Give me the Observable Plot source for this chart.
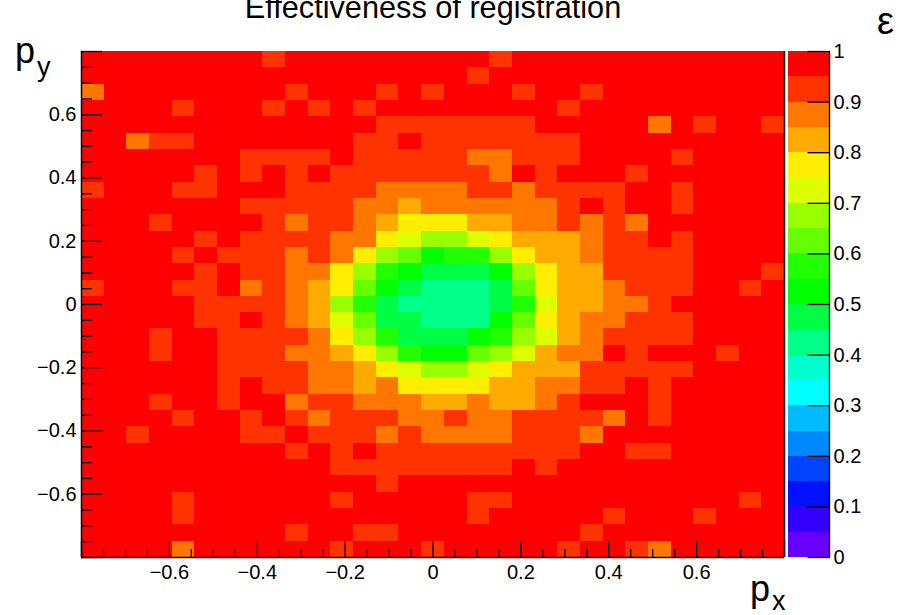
<!DOCTYPE html>
<html>
<head>
<meta charset="utf-8">
<script src="https://cdn.jsdelivr.net/npm/d3@7"></script>
<script src="https://cdn.jsdelivr.net/npm/@observablehq/plot@0.6"></script>
<style>
html,body{margin:0;padding:0;background:#fff;}
#page{position:relative;width:898px;height:615px;overflow:hidden;font-family:"Liberation Sans",sans-serif;color:#000;}
#page svg{position:absolute;top:0;background:transparent;overflow:visible;}
.t{position:absolute;line-height:1;white-space:nowrap;}
.s{font-size:27px;position:relative;margin-left:2px;}
</style>
</head>
<body>
<div id="page">
  <div class="t" id="title" style="left:183px;width:500px;text-align:center;top:-7px;font-size:30.7px;">Effectiveness of registration</div>
  <div class="t" style="left:15px;top:33px;font-size:36px;">p<span class="s" style="top:13px">y</span></div>
  <div class="t" style="left:750px;top:571px;font-size:36px;">p<span class="s" style="top:9px">x</span></div>
  <div class="t" style="left:877px;top:2px;font-size:38px;">ε</div>
</div>
<script>
// Efficiency per cell, percent, row 0 = top (largest p_y), column 0 = left.
const efficiency = [
[97,97,97,97,97,97,97,97,92,97, 97,97,97,97,97,97,97,97,92,97, 97,97,97,97,97,97,97,97,97,97,97],
[97,97,97,97,97,97,97,97,97,97, 97,97,97,97,97,97,97,92,97,97, 97,97,97,97,97,97,97,97,97,97,97],
[87,97,97,97,97,97,97,97,97,92, 97,97,97,92,97,92,97,97,97,92, 97,97,92,97,97,97,97,97,97,97,97],
[97,97,97,97,92,97,97,97,92,97, 92,97,92,97,97,97,97,97,97,97, 97,92,97,97,97,97,97,97,97,97,97],
[97,97,97,97,97,97,97,97,97,97, 97,97,97,92,92,92,92,92,92,92, 97,97,97,97,97,87,97,92,97,97,92],
[97,97,87,92,92,97,97,97,97,97, 97,97,92,92,97,92,92,92,92,92, 92,92,97,97,97,97,97,97,97,97,97],
[97,97,97,97,97,97,97,92,92,92, 92,97,92,92,92,92,92,87,87,92, 92,92,97,97,97,97,92,97,97,97,97],
[97,97,97,97,97,92,97,92,97,92, 97,92,92,92,92,92,92,92,87,97, 92,97,97,97,92,97,97,97,97,97,97],
[92,97,97,97,92,92,97,97,97,92, 92,92,92,87,87,87,87,92,92,87, 92,92,92,92,97,97,92,97,97,97,97],
[97,97,97,97,97,97,97,92,92,92, 92,92,87,87,82,87,87,87,87,87, 87,92,97,92,97,97,92,97,97,97,97],
[97,97,97,92,97,97,97,97,92,87, 92,92,87,82,77,77,77,82,82,87, 87,92,87,92,87,97,97,97,97,97,97],
[97,97,97,97,97,92,97,92,92,92, 92,87,87,77,72,67,67,72,77,82, 82,82,87,92,92,97,92,97,97,97,97],
[97,97,97,97,92,97,92,92,92,87, 92,87,77,67,62,52,57,57,67,77, 82,82,87,92,92,92,92,97,97,97,97],
[97,97,97,97,97,92,97,92,92,87, 87,77,67,57,52,47,47,47,52,67, 77,82,82,92,92,92,92,97,97,97,92],
[92,97,97,97,92,92,97,87,92,87, 82,77,62,52,47,42,42,42,47,62, 77,82,82,87,92,92,92,97,97,92,97],
[97,97,97,97,97,92,92,92,92,87, 82,67,57,47,42,42,42,42,47,57, 72,82,82,87,87,92,97,97,97,97,97],
[97,97,97,97,97,92,92,97,92,87, 82,72,62,47,47,42,42,42,52,62, 77,82,87,87,92,92,92,97,97,97,97],
[97,97,97,92,97,97,92,92,92,92, 87,77,67,57,47,47,47,52,57,67, 72,82,87,92,92,92,92,97,97,97,97],
[97,97,97,92,97,97,92,92,92,87, 87,82,77,67,57,52,52,62,67,72, 82,87,87,97,92,97,97,97,92,97,97],
[97,97,97,97,97,97,92,92,92,92, 87,87,82,77,72,67,67,72,77,82, 82,82,92,92,92,92,92,97,97,97,97],
[97,97,97,97,97,97,92,97,92,92, 87,87,82,87,77,77,77,77,82,82, 87,87,92,92,97,92,97,97,97,97,97],
[97,97,97,92,97,97,92,97,97,87, 92,92,87,87,87,82,82,87,82,82, 87,92,97,97,97,92,97,97,97,97,97],
[97,97,97,97,92,97,97,92,97,92, 87,92,92,92,87,87,92,87,87,92, 92,92,92,87,97,92,97,97,97,97,97],
[97,97,92,97,97,97,97,92,92,97, 92,92,92,87,92,87,87,87,87,92, 92,92,87,97,97,97,97,97,97,97,97],
[97,97,97,97,97,97,97,97,97,92, 97,92,97,92,92,92,92,92,92,92, 92,92,97,97,92,92,97,97,97,97,97],
[97,97,97,97,97,97,97,97,97,97, 97,92,92,92,92,92,92,92,92,97, 92,97,97,97,97,97,97,97,97,97,97],
[97,97,97,97,97,97,97,97,97,97, 97,97,97,92,97,97,97,97,97,97, 97,97,97,97,97,97,97,97,97,97,97],
[97,97,97,97,92,97,97,97,97,97, 97,92,97,97,97,97,97,92,92,97, 97,97,97,97,97,97,97,97,97,92,97],
[97,97,97,97,92,97,97,97,97,97, 97,97,97,97,97,97,97,92,97,97, 97,97,97,92,97,97,97,92,97,97,97],
[97,97,97,97,97,97,97,97,97,92, 97,97,92,92,97,97,97,97,97,97, 97,97,92,97,97,97,97,97,97,97,97],
[97,97,97,97,87,97,97,97,97,97, 97,92,97,97,97,92,97,97,97,97, 97,92,97,97,92,87,97,97,97,97,97]
];
const pMin = -0.8, pMax = 0.8;
const majorTicks = [-0.6,-0.4,-0.2,0,0.2,0.4,0.6];
const allMajor = [-0.8,-0.6,-0.4,-0.2,0,0.2,0.4,0.6,0.8];
const minorTicks = [-0.75,-0.7,-0.65,-0.55,-0.5,-0.45,-0.35,-0.3,-0.25,-0.15,-0.1,-0.05,0.05,0.1,0.15,0.25,0.3,0.35,0.45,0.5,0.55,0.65,0.7,0.75];
const levelEdges = [0.05,0.1,0.15,0.2,0.25,0.3,0.35,0.4,0.45,0.5,0.55,0.6,0.65,0.7,0.75,0.8,0.85,0.9,0.95];
const palette = ["#6600ff","#3300ff","#0011ff","#0044ff","#0088ff","#00bbff","#00ffff","#00ffcc","#00ff88","#00ff44","#00ff00","#22ff00","#66ff00","#99ff00","#ddff00","#ffee00","#ffaa00","#ff7700","#ff3300","#ff0000"];
const barTicks = [0,0.1,0.2,0.3,0.4,0.5,0.6,0.7,0.8,0.9,1];

const n = efficiency.length;
const step = (pMax - pMin) / n;
const cells = efficiency.flatMap((row, r) => row.map((v, c) => ({
  x1: pMin + c * step, x2: pMin + (c + 1) * step,
  y1: pMax - (r + 1) * step, y2: pMax - r * step, v: v / 100
})));
const colorScale = {type: "threshold", domain: levelEdges, range: palette};
const font = {fontFamily: '"Liberation Sans", sans-serif', background: "transparent", overflow: "visible"};
const tickStyle = {stroke: "#000", strokeWidth: 1.3};
const label = d => String(d).replace("-", "\u2212");
const labelSize = 20;

const main = Plot.plot({
  width: 790, height: 615,
  marginLeft: 81, marginRight: 6, marginTop: 51, marginBottom: 58,
  x: {domain: [pMin, pMax], axis: null},
  y: {domain: [pMin, pMax], axis: null},
  color: colorScale,
  style: font,
  marks: [
    Plot.rect(cells, {x1: "x1", x2: "x2", y1: "y1", y2: "y2", fill: "v", shapeRendering: "crispEdges"}),
    Plot.axisX(allMajor, {anchor: "bottom", tickSize: -16, tickPadding: 0, text: null, ...tickStyle, insetBottom: 0}),
    Plot.axisX(minorTicks, {anchor: "bottom", tickSize: -8, text: null, ...tickStyle}),
    Plot.axisY(allMajor, {anchor: "left", tickSize: -21, text: null, ...tickStyle}),
    Plot.axisY(minorTicks, {anchor: "left", tickSize: -11, text: null, ...tickStyle}),
    Plot.ruleX([pMin, pMax], {stroke: "#000", strokeWidth: 1.5}),
    Plot.ruleY([pMin], {stroke: "#000", strokeWidth: 1.5}),
    Plot.axisX(majorTicks, {anchor: "bottom", tickSize: 0, tickPadding: 7, fontSize: labelSize, fill: "#000", label: null, tickFormat: label}),
    Plot.axisY(majorTicks, {anchor: "left", tickSize: 0, tickPadding: 5, fontSize: labelSize, fill: "#000", label: null, tickFormat: label})
  ]
});

const bar = Plot.plot({
  width: 118, height: 615,
  marginLeft: 8, marginRight: 69, marginTop: 51, marginBottom: 58,
  x: {domain: [0, 1], axis: null},
  y: {domain: [0, 1], axis: null},
  color: colorScale,
  style: font,
  marks: [
    Plot.rect([0, ...levelEdges], {x1: 0, x2: 1, y1: d => d, y2: d => d + 0.05, fill: d => d + 0.025, shapeRendering: "crispEdges"}),
    Plot.axisY(barTicks, {anchor: "right", tickSize: -22.5, text: null, ...tickStyle}),
    Plot.ruleX([1], {stroke: "#000", strokeWidth: 1.3}),
    Plot.axisY(barTicks, {anchor: "right", tickSize: 0, tickPadding: 4, fontSize: labelSize, fill: "#000", label: null, tickFormat: label})
  ]
});
main.style.left = "0px";
bar.style.left = "780px";
document.getElementById("page").append(main, bar);
</script>
</body>
</html>
